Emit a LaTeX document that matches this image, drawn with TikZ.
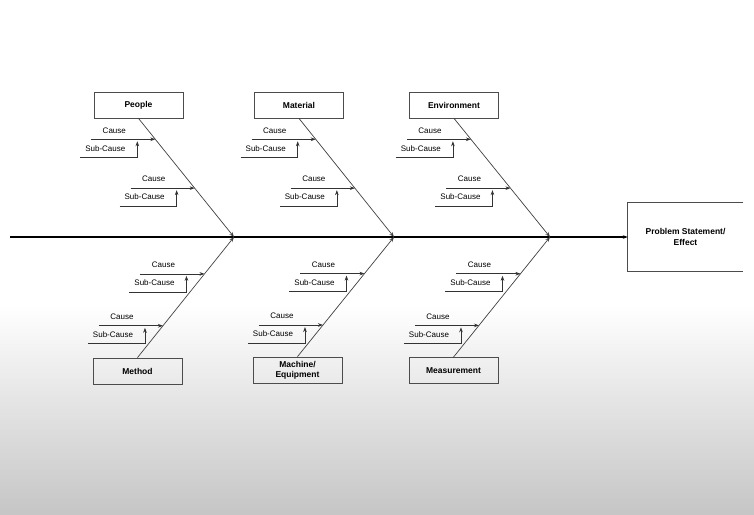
\documentclass[tikz,border=0pt]{standalone}
\usepackage{fontspec}
\setmainfont{Liberation Sans}
\usetikzlibrary{arrows.meta, positioning, calc}

\begin{document}
\begin{tikzpicture}[x=1pt, y=-1pt, >={Stealth[length=5pt, width=3.6pt]},
  catbox/.style={draw=black!70, line width=0.8pt, minimum width=89pt, minimum height=26pt,
    align=center, font=\bfseries\fontsize{8.5}{10}\selectfont},
  lbl/.style={inner sep=0pt, font=\fontsize{8}{9}\selectfont},
  rib/.style={->, draw=black!75, line width=0.7pt},
  branch/.style={->, draw=black!80, line width=0.7pt}]
  \useasboundingbox (0,0) rectangle (754,514);
  % background
  \fill[white] (0,0) rectangle (754,514);
  \shade[top color=white, bottom color=gray!45] (0,305) rectangle (754,514);

  % effect and spine
  \node[align=center, minimum width=115pt, minimum height=68pt,
    font=\bfseries\fontsize{8.5}{11}\selectfont] (effect) at (685.5,237) {Problem Statement/\\Effect};
  \draw[draw=black!70, line width=0.8pt] (effect.north east) -- (effect.north west)
    -- (effect.south west) -- (effect.south east);
  \coordinate (tail) at (10,237);
  \draw[->, line width=1.7pt] (tail) -- (effect.west);
  \coordinate (j1) at (234,237);
  \coordinate (j2) at (394,237);
  \coordinate (j3) at (550,237);

  % categories
  \node[catbox] (people) at (138.5,105) {People};
  \node[catbox] (material) at (299,105) {Material};
  \node[catbox] (environment) at (454,105) {Environment};
  \node[catbox] (method) at (137.5,371) {Method};
  \node[catbox] (machine) at (297.5,370) {Machine/\\Equipment};
  \node[catbox] (measurement) at (453.5,370.5) {Measurement};

  % ribs with causes
  \foreach \cat/\side/\j/\p/\q in {people/south/j1/0.176/0.588, material/south/j2/0.176/0.588,
      environment/south/j3/0.176/0.588, method/north/j1/0.694/0.264,
      machine/north/j2/0.694/0.264, measurement/north/j3/0.694/0.264} {
    \draw[rib] (\cat.\side) -- coordinate[pos=\p] (\cat-h1) coordinate[pos=\q] (\cat-h2) (\j);
    \foreach \i in {1,2} {
      \coordinate (\cat-s\i) at ($(\cat-h\i)+(-64,0)$);
      \draw[branch] (\cat-s\i) -- (\cat-h\i);
      \node[lbl] (\cat-cl\i) at ($(\cat-h\i)+(-41,-9)$) {Cause};
      \coordinate (\cat-u\i) at ($(\cat-h\i)+(-75,18)$);
      \coordinate (\cat-k\i) at ($(\cat-h\i)+(-18,18)$);
      \coordinate (\cat-e\i) at ($(\cat-h\i)+(-18,2)$);
      \draw[branch] (\cat-u\i) -- (\cat-k\i) -- (\cat-e\i);
      \node[lbl] (\cat-sl\i) at ($(\cat-h\i)+(-50,9)$) {Sub-Cause};
    }
  }
\end{tikzpicture}
\end{document}
